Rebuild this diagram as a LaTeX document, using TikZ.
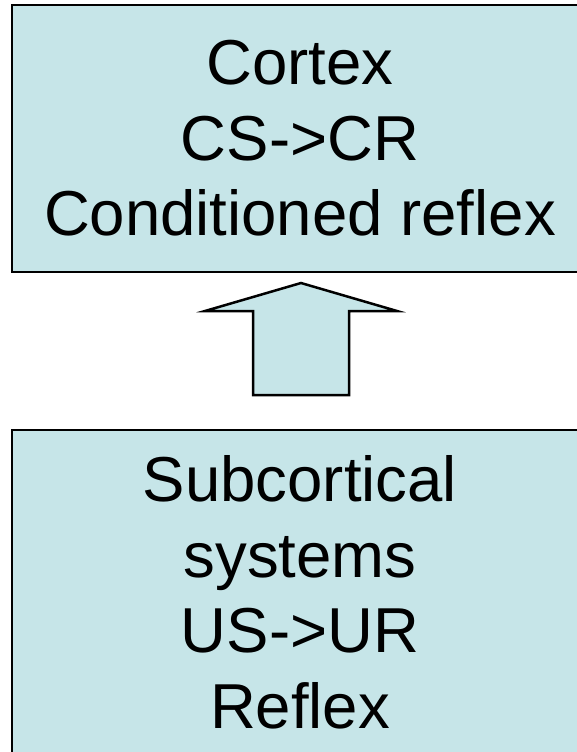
\documentclass[tikz,border=0pt]{standalone}
\usepackage{fontspec}
\setmainfont{Liberation Sans}
\definecolor{boxfill}{RGB}{198,229,232}
\begin{document}
\begin{tikzpicture}[x=1pt,y=-1pt,
  levelbox/.style={draw=black, line width=2.4pt, fill=boxfill,
    align=center, inner sep=0pt,
    font=\fontsize{63.5}{75.5}\selectfont},
  blockarrow/.style={draw=black, line width=2.5pt, fill=boxfill, line join=miter}]
  \useasboundingbox (0,0) rectangle (577,752);
  \clip (0,0) rectangle (577,752);

  % upper level
  \node[levelbox, minimum width=576pt, minimum height=267pt] (cortex) at (300,138.5)
    {Cortex\\CS->CR\\Conditioned reflex};

  % lower level
  \node[levelbox, minimum width=576pt, minimum height=325pt] (subcort) at (300,592.5)
    {Subcortical\\systems\\US->UR\\Reflex};

  % outline of the block arrow from the lower level to the upper one
  \coordinate (tip) at (301,283);
  \coordinate (base) at (301,395);
  \draw[blockarrow] (tip) -- (397,311) -- (349,311) -- (349,395) -- (base)
    -- (253,395) -- (253,311) -- (205,311) -- cycle;
\end{tikzpicture}
\end{document}
